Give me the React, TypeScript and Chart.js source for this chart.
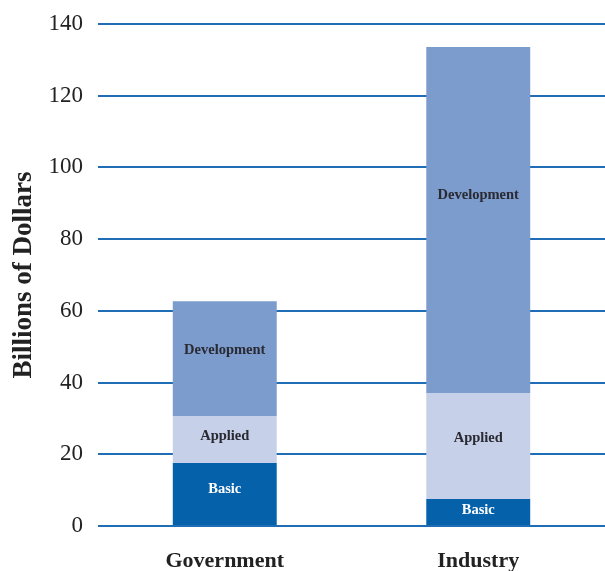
import React, { useEffect, useRef } from "react";
import { Chart, registerables } from "chart.js";

Chart.register(...registerables);

const categories = ["Government", "Industry"];
const basic = [17.6, 7.5];
const applied = [13.1, 29.6];
const development = [32.0, 96.5];
const segmentNames = ["Basic", "Applied", "Development"];
const yMin = 0;
const yMax = 140;
const yStep = 20;
const yTitle = "Billions of Dollars";

const FONT = "'Liberation Serif', 'DejaVu Serif', serif";
const colors = ["#0561aa", "#c6d0e8", "#7b9ccc"];
const labelColors = ["#ffffff", "#2a2a33", "#2a2a33"];

const segmentLabelPlugin = {
  id: "segmentLabels",
  afterDatasetsDraw(chart: any) {
    const ctx = chart.ctx;
    ctx.save();
    ctx.font = `bold 14.5px ${FONT}`;
    ctx.textAlign = "center";
    ctx.textBaseline = "middle";
    chart.data.datasets.forEach((ds: any, i: number) => {
      const meta = chart.getDatasetMeta(i);
      meta.data.forEach((bar: any) => {
        const top = Math.min(bar.y, bar.base);
        const h = Math.abs(bar.base - bar.y);
        const cy = top + h * 0.43;
        ctx.fillStyle = labelColors[i];
        ctx.fillText(ds.label, bar.x, cy);
      });
    });
    ctx.restore();
  },
};

export default function App() {
  const ref = useRef<HTMLCanvasElement | null>(null);
  useEffect(() => {
    if (!ref.current) return;
    const series = [basic, applied, development];
    const chart = new Chart(ref.current, {
      type: "bar",
      data: {
        labels: categories,
        datasets: series.map((vals, i) => ({
          label: segmentNames[i],
          data: vals,
          backgroundColor: colors[i],
          borderWidth: 0,
          categoryPercentage: 1,
          barPercentage: 0.41,
        })),
      },
      options: {
        responsive: false,
        animation: false,
        layout: { padding: { top: 24, right: 0, left: 0, bottom: 0 } },
        plugins: {
          legend: { display: false },
          tooltip: { enabled: false },
        },
        scales: {
          x: {
            stacked: true,
            grid: { display: false, drawTicks: false },
            border: { display: false },
            ticks: {
              color: "#222",
              font: { family: FONT, size: 22, weight: "bold" },
              padding: 22,
            },
            afterFit: (s: any) => {
              s.height = 45;
            },
          },
          y: {
            stacked: true,
            min: yMin,
            max: yMax,
            grid: { color: "#1f6db5", lineWidth: 2, drawTicks: false },
            border: { display: false },
            ticks: {
              stepSize: yStep,
              color: "#222",
              font: { family: FONT, size: 23 },
              padding: 15,
            },
            title: {
              display: true,
              text: yTitle,
              color: "#222",
              font: { family: FONT, size: 27, weight: "bold" },
              padding: { top: 8, bottom: 0 },
            },
            afterFit: (s: any) => {
              s.width = 98;
              s.paddingTop = 0;
              s.paddingBottom = 0;
            },
          },
        },
      },
      plugins: [segmentLabelPlugin],
    });
    return () => chart.destroy();
  }, []);
  return (
    <div style={{ position: "absolute", left: 0, top: 0, width: 605, height: 571 }}>
      <canvas ref={ref} width={605} height={571} />
    </div>
  );
}
